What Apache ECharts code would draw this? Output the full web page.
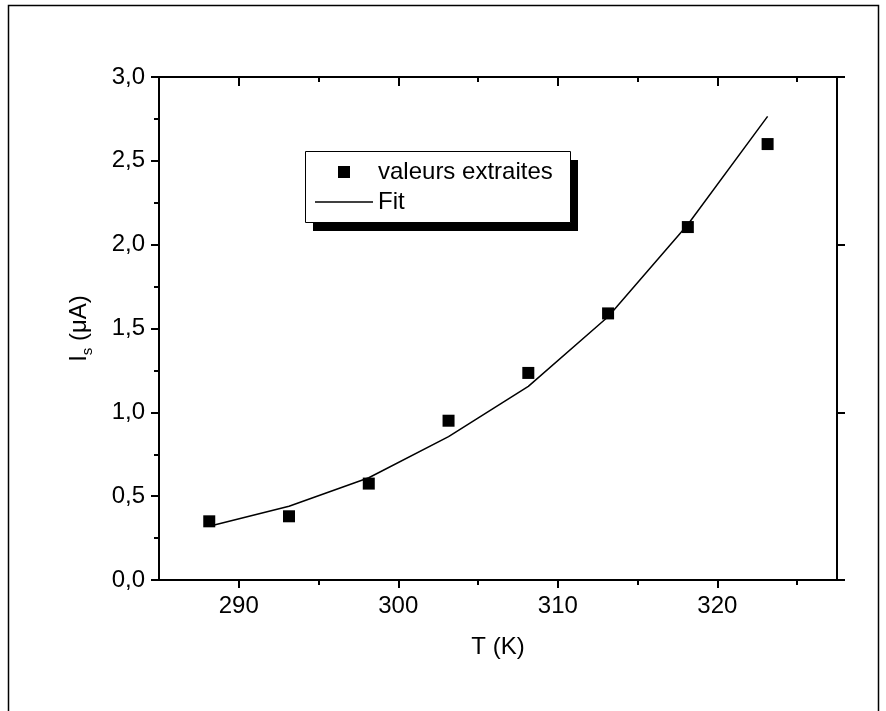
<!DOCTYPE html>
<html>
<head>
<meta charset="utf-8">
<style>
  html, body { margin: 0; padding: 0; background: #fff; }
  #chart { width: 886px; height: 711px; }
</style>
<script src="https://cdn.jsdelivr.net/npm/echarts@6/dist/echarts.min.js"></script>
</head>
<body>
<div id="chart"></div>
<script>
// Temperatures (K) of the measurement points
const temperatures = [288.15, 293.15, 298.15, 303.15, 308.15, 313.15, 318.15, 323.15];
// Saturation current extracted at each temperature (µA)
const extractedIs = [0.35, 0.38, 0.575, 0.95, 1.235, 1.59, 2.105, 2.60];
// Fitted curve evaluated at the same temperatures (µA)
const fitIs = [0.32, 0.44, 0.61, 0.855, 1.155, 1.57, 2.12, 2.765];

// Axis tick positions
const xMajorTicks = [290, 300, 310, 320];
const xMinorTicks = [295, 305, 315, 325];

const FONT = 'Liberation Sans, Arial, sans-serif';
const FS = 24;

const pairs = (xs, ys) => xs.map((x, i) => [x, ys[i]]);
const comma = v => v.toFixed(1).replace('.', ',');

const chart = echarts.init(document.getElementById('chart'), null, { renderer: 'canvas' });

const xBase = { type: 'value', min: 285, max: 327.5, gridIndex: 0, splitLine: { show: false } };
const lineStyle = { color: '#000', width: 2 };

chart.setOption({
  animation: false,
  backgroundColor: '#fff',
  textStyle: { fontFamily: FONT, color: '#000' },
  grid: { left: 159, right: 49, top: 77, bottom: 131, containLabel: false },
  graphic: [
    // outer frame of the figure
    { type: 'rect', z: -10, shape: { x: 8.5, y: 5.5, width: 870, height: 760 },
      style: { fill: 'none', stroke: '#000', lineWidth: 1.5 } },
    // legend box shadow and box
    { type: 'rect', z: 5, shape: { x: 313, y: 160, width: 265, height: 71 },
      style: { fill: '#000' } },
    { type: 'rect', z: 6, shape: { x: 305.5, y: 151.5, width: 265, height: 71 },
      style: { fill: '#fff', stroke: '#000', lineWidth: 1 } }
  ],
  legend: {
    orient: 'vertical',
    left: 315, top: 160, padding: 0, z: 10,
    itemWidth: 58, itemHeight: 12, itemGap: 6,
    textStyle: { fontFamily: FONT, fontSize: FS, color: '#000', lineHeight: 24 },
    data: [
      { name: 'valeurs extraites', icon: 'path://M0,0H10V10H0Z' },
      { name: 'Fit', icon: 'path://M0,0H58V1.5H0Z' }
    ]
  },
  xAxis: [
    Object.assign({}, xBase, {
      position: 'bottom',
      name: 'T (K)', nameLocation: 'middle', nameGap: 55,
      nameTextStyle: { fontFamily: FONT, fontSize: FS, color: '#000' },
      axisLine: { show: true, onZero: false, lineStyle },
      axisTick: { show: true, inside: false, length: 8, lineStyle, customValues: xMajorTicks },
      axisLabel: { show: true, margin: 14, fontFamily: FONT, fontSize: FS, color: '#000', customValues: xMajorTicks }
    }),
    Object.assign({}, xBase, {
      position: 'bottom',
      axisLine: { show: false, onZero: false },
      axisTick: { show: true, inside: false, length: 5, lineStyle, customValues: xMinorTicks },
      axisLabel: { show: false }
    }),
    Object.assign({}, xBase, {
      position: 'top',
      axisLine: { show: true, onZero: false, lineStyle },
      axisTick: { show: true, inside: true, length: 9, lineStyle, customValues: xMajorTicks },
      axisLabel: { show: false }
    }),
    Object.assign({}, xBase, {
      position: 'top',
      axisLine: { show: false, onZero: false },
      axisTick: { show: true, inside: true, length: 5, lineStyle, customValues: xMinorTicks },
      axisLabel: { show: false }
    })
  ],
  yAxis: [
    {
      type: 'value', position: 'left', min: 0, max: 3, interval: 0.5,
      name: 'I{s|s} (μA)', nameLocation: 'middle', nameGap: 64, nameRotate: 90,
      nameTextStyle: {
        fontFamily: FONT, fontSize: FS, color: '#000',
        rich: { s: { fontFamily: FONT, fontSize: 15, color: '#000', verticalAlign: 'bottom', lineHeight: 32 } }
      },
      splitLine: { show: false },
      axisLine: { show: true, onZero: false, lineStyle },
      axisTick: { show: true, inside: false, length: 8, lineStyle },
      minorTick: { show: true, splitNumber: 2, length: 5, lineStyle },
      axisLabel: { show: true, margin: 14, fontFamily: FONT, fontSize: FS, color: '#000', formatter: comma }
    },
    {
      type: 'value', position: 'right', min: 0, max: 3, interval: 1,
      splitLine: { show: false },
      axisLine: { show: true, onZero: false, lineStyle },
      axisTick: { show: true, inside: false, length: 8, lineStyle },
      axisLabel: { show: false }
    }
  ],
  series: [
    {
      name: 'valeurs extraites', type: 'scatter', xAxisIndex: 0, yAxisIndex: 0,
      symbol: 'rect', symbolSize: 12, z: 3,
      itemStyle: { color: '#000', opacity: 1 },
      data: pairs(temperatures, extractedIs)
    },
    {
      name: 'Fit', type: 'line', xAxisIndex: 0, yAxisIndex: 0,
      symbol: 'none', showSymbol: false, z: 2,
      lineStyle: { color: '#000', width: 1.5 },
      itemStyle: { color: '#000' },
      data: pairs(temperatures, fitIs)
    }
  ]
});
</script>
</body>
</html>
